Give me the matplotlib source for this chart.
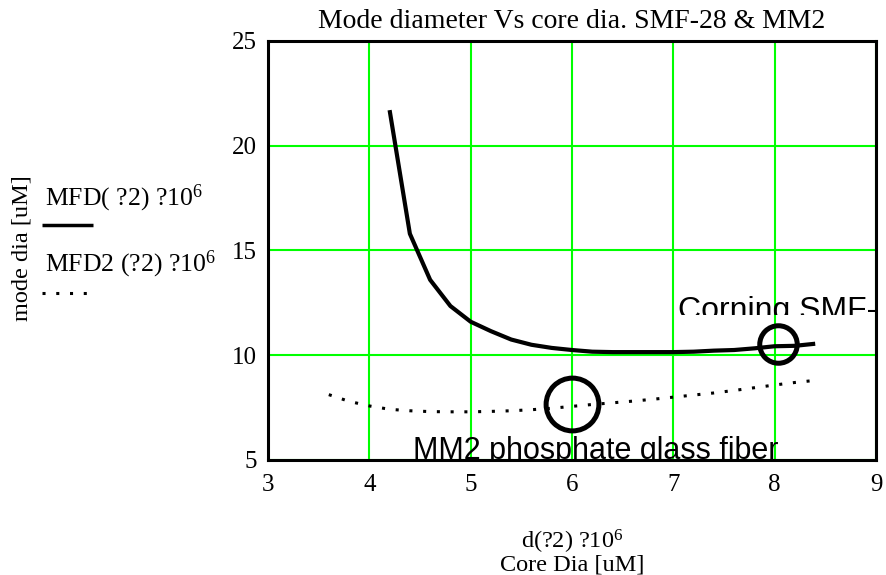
import matplotlib
matplotlib.use('Agg')
import matplotlib.pyplot as plt
from matplotlib.patches import Rectangle
from matplotlib.lines import Line2D

# ---- data ----
core_dia = [4.2, 4.4, 4.6, 4.8, 5.0, 5.2, 5.4, 5.6, 5.8, 6.0, 6.2, 6.4, 6.6,
            6.8, 7.0, 7.2, 7.4, 7.6, 7.8, 8.0, 8.2, 8.4]
mfd_smf28 = [21.7, 15.8, 13.6, 12.35, 11.6, 11.15, 10.75, 10.5, 10.35, 10.25,
             10.17, 10.15, 10.15, 10.15, 10.15, 10.17, 10.22, 10.25, 10.33,
             10.43, 10.45, 10.55]
core_dia2 = [3.6, 3.8, 4.0, 4.2, 4.4, 4.6, 4.8, 5.0, 5.2, 5.4, 5.6, 5.8, 6.0,
             6.2, 6.4, 6.6, 6.8, 7.0, 7.2, 7.4, 7.6, 7.8, 8.0, 8.2, 8.4]
mfd_mm2 = [8.12, 7.8, 7.58, 7.42, 7.35, 7.31, 7.3, 7.3, 7.32, 7.35, 7.4, 7.47,
           7.56, 7.65, 7.73, 7.81, 7.9, 8.0, 8.1, 8.2, 8.32, 8.45, 8.58, 8.7, 8.8]
x_ticks = [3, 4, 5, 6, 7, 8, 9]
y_ticks = [5, 10, 15, 20, 25]

plt.rcParams['mathtext.fontset'] = 'custom'
plt.rcParams['mathtext.rm'] = 'Liberation Serif'
plt.rcParams['mathtext.it'] = 'Liberation Serif:italic'

SERIF = 'Liberation Serif'
SANS = 'Liberation Sans'
W, H = 887, 575
fig = plt.figure(figsize=(W / 100, H / 100), dpi=100)
ax = fig.add_axes([268 / W, 1 - 460 / H, (876 - 268) / W, (460 - 41) / H])

ax.set_xlim(3, 9)
ax.set_ylim(5, 25)
ax.set_xticks(x_ticks)
ax.set_yticks(y_ticks)
ax.grid(True, color='#00ff00', linewidth=1.5)
ax.set_axisbelow(True)
ax.tick_params(length=0, labelsize=18)
ax.tick_params(axis='x', pad=10)
ax.tick_params(axis='y', pad=8)
for lab in ax.get_xticklabels() + ax.get_yticklabels():
    lab.set_fontfamily(SERIF)
for sp in ax.spines.values():
    sp.set_linewidth(2.2)
    sp.set_color('black')
    sp.set_zorder(5)

ax.plot(core_dia, mfd_smf28, color='black', linewidth=3.0, solid_capstyle='butt', zorder=3)
ax.plot(core_dia2, mfd_mm2, color='black', linewidth=2.2,
        linestyle=(0, (1, 3.5)), zorder=3)

# highlight circles
ax.plot([8.03], [10.54], marker='o', markersize=27, markerfacecolor='none',
        markeredgecolor='black', markeredgewidth=3.6, zorder=4)
ax.plot([6.0], [7.68], marker='o', markersize=38, markerfacecolor='none',
        markeredgecolor='black', markeredgewidth=3.6, zorder=4)

# clipped annotations
t1 = ax.text(7.05, 11.72, 'Corning SMF-28', fontfamily=SANS, fontsize=23,
             va='baseline', ha='left', clip_on=True, zorder=4)
t1.set_clip_path(Rectangle((3, 11.94), 6, 14, transform=ax.transData))
t2 = ax.text(4.43, 5.05, 'MM2 phosphate glass fiber', fontfamily=SANS, fontsize=22,
             va='baseline', ha='left', clip_on=True, zorder=4)

# title
fig.text(572 / W, 1 - 28 / H, 'Mode diameter Vs core dia. SMF-28 & MM2',
         fontfamily=SERIF, fontsize=20, ha='center', va='baseline')

# y label
fig.text(22 / W, 1 - 248 / H, 'mode dia [uM]', fontfamily=SERIF, fontsize=17.5,
         rotation=90, ha='center', va='center')

# legend-like labels
fig.text(45 / W, 1 - 205 / H, 'MFD( ?2) ?10$^{6}$', fontfamily=SERIF, fontsize=18.5,
         ha='left', va='baseline')
fig.add_artist(Line2D([42 / W, 93 / W], [1 - 225 / H] * 2, transform=fig.transFigure,
                      color='black', linewidth=2.5, solid_capstyle='butt'))
fig.text(45 / W, 1 - 271 / H, 'MFD2 (?2) ?10$^{6}$', fontfamily=SERIF, fontsize=18.5,
         ha='left', va='baseline')
fig.add_artist(Line2D([42 / W, 95 / W], [1 - 293 / H] * 2, transform=fig.transFigure,
                      color='black', linewidth=2.2, linestyle=(0, (1, 3.5))))

# x label
fig.text(572 / W, 1 - 549 / H, 'd(?2) ?10$^{6}$', fontfamily=SERIF, fontsize=17.5,
         ha='center', va='baseline')
fig.text(572 / W, 1 - 570 / H, 'Core Dia [uM]', fontfamily=SERIF, fontsize=17.5,
         ha='center', va='baseline')

fig.savefig('out.png', dpi=100)
